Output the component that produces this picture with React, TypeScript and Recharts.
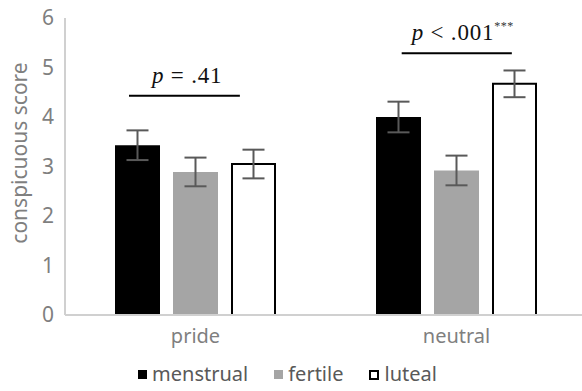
import { BarChart, Bar, XAxis, YAxis, ErrorBar, ReferenceLine, Legend } from 'recharts';

const categories = ['pride', 'neutral'];
const menstrual = [3.43, 4.0];
const menstrualErr = [0.3, 0.31];
const fertile = [2.89, 2.92];
const fertileErr = [0.29, 0.3];
const luteal = [3.05, 4.67];
const lutealErr = [0.29, 0.27];
const yTicks = [0, 1, 2, 3, 4, 5, 6];

// significance brackets: [from, to] as a fraction of the plot width, height, text
const sigSpans = [
  [0.1226, 0.335],
  [0.645, 0.856],
];
const sigHeights = [4.43, 5.29];
const sigLabels = ['p = .41', 'p < .001'];
const sigStars = ['', '***'];

const data = categories.map((name, i) => ({
  name,
  menstrual: menstrual[i],
  menstrualErr: menstrualErr[i],
  fertile: fertile[i],
  fertileErr: fertileErr[i],
  luteal: luteal[i],
  lutealErr: lutealErr[i],
}));

const grey = '#7f7f7f';
const sans = '"Noto Sans", sans-serif';

// open bar: white fill, outline without the bottom edge
const OpenBar = (props: any) => {
  const { x, y, width, height } = props;
  return (
    <g>
      <rect x={x} y={y} width={width} height={height} fill="#fff" />
      <path
        d={`M${x + 1},${y + height} L${x + 1},${y} L${x + width - 1},${y} L${x + width - 1},${y + height}`}
        fill="none"
        stroke="#000"
        strokeWidth={2}
      />
    </g>
  );
};

const SigLabel = (idx: number) => (props: any) => {
  const { viewBox } = props;
  const vx = viewBox.x;
  const vy = viewBox.y;
  const [pLetter, ...rest] = sigLabels[idx].split(' ');
  return (
    <text
      x={idx === 0 ? vx + 23 : vx + 10}
      y={vy - 13}
      fontFamily='"Liberation Serif", "Times New Roman", serif'
      fontSize={23}
      fill="#111"
      letterSpacing={0.8}
    >
      <tspan fontStyle="italic">{pLetter}</tspan>
      <tspan>{' ' + rest.join(' ')}</tspan>
      {sigStars[idx] && (
        <tspan fontSize={12} dy={-10} fill="#333" letterSpacing={0.5}>
          {sigStars[idx]}
        </tspan>
      )}
    </text>
  );
};

const LegendContent = () => {
  const items = [
    { label: 'menstrual', box: { background: '#000', width: 9, height: 9 } },
    { label: 'fertile', box: { background: '#a5a5a5', width: 9, height: 9 } },
    { label: 'luteal', box: { background: '#fff', width: 6, height: 6, border: '2px solid #000' } },
  ];
  return (
    <div
      style={{
        display: 'flex',
        justifyContent: 'center',
        alignItems: 'center',
        height: 36,
        paddingRight: 12,
        fontFamily: sans,
        fontSize: 20,
        color: '#595959',
      }}
    >
      {items.map((it, i) => (
        <div
          key={it.label}
          style={{ display: 'flex', alignItems: 'center', marginRight: i < items.length - 1 ? 26 : 0 }}
        >
          <div style={{ ...it.box, marginRight: 5, marginTop: 3 }} />
          <span>{it.label}</span>
        </div>
      ))}
    </div>
  );
};

export default function App() {
  return (
    <div style={{ position: 'absolute', left: 0, top: 0, width: 582, height: 391, overflow: 'hidden', background: '#fff' }}>
      <BarChart
        width={587}
        height={391}
        data={data}
        margin={{ top: 18, right: 0, bottom: 0, left: 0 }}
        barCategoryGap="19%"
        barGap={13}
      >
        <XAxis
          dataKey="name"
          tickLine={false}
          tickSize={0}
          tickMargin={14}
          height={40}
          axisLine={{ stroke: '#d0d0d0', strokeWidth: 2 }}
          tick={{ fill: grey, fontSize: 20, fontFamily: sans }}
        />
        <XAxis xAxisId="n" type="number" domain={[0, 1]} hide allowDataOverflow />
        <YAxis
          domain={[0, 6]}
          ticks={yTicks}
          width={65}
          tickLine={false}
          tickSize={0}
          tickMargin={11}
          axisLine={{ stroke: '#d0d0d0', strokeWidth: 2 }}
          tick={{ fill: grey, fontSize: 21, fontFamily: sans }}
          label={{
            content: () => (
              <text
                x={19}
                y={153}
                transform="rotate(-90 19 153)"
                textAnchor="middle"
                dominantBaseline="central"
                fill={grey}
                fontSize={21}
                fontFamily={sans}
              >
                conspicuous score
              </text>
            ),
          }}
        />
        <Legend verticalAlign="bottom" height={36} content={LegendContent} />
        <Bar dataKey="menstrual" fill="#000" barSize={45} isAnimationActive={false}>
          <ErrorBar dataKey="menstrualErr" width={11} strokeWidth={2} stroke="#595959" direction="y" />
        </Bar>
        <Bar dataKey="fertile" fill="#a5a5a5" barSize={45} isAnimationActive={false}>
          <ErrorBar dataKey="fertileErr" width={11} strokeWidth={2} stroke="#595959" direction="y" />
        </Bar>
        <Bar dataKey="luteal" fill="#fff" barSize={45} shape={OpenBar} isAnimationActive={false}>
          <ErrorBar dataKey="lutealErr" width={11} strokeWidth={2} stroke="#595959" direction="y" />
        </Bar>
        {sigSpans.map((span, i) => (
          <ReferenceLine
            key={i}
            xAxisId="n"
            segment={[
              { x: span[0], y: sigHeights[i] },
              { x: span[1], y: sigHeights[i] },
            ]}
            stroke="#000"
            strokeWidth={2}
            ifOverflow="visible"
            label={SigLabel(i)}
          />
        ))}
      </BarChart>
    </div>
  );
}
